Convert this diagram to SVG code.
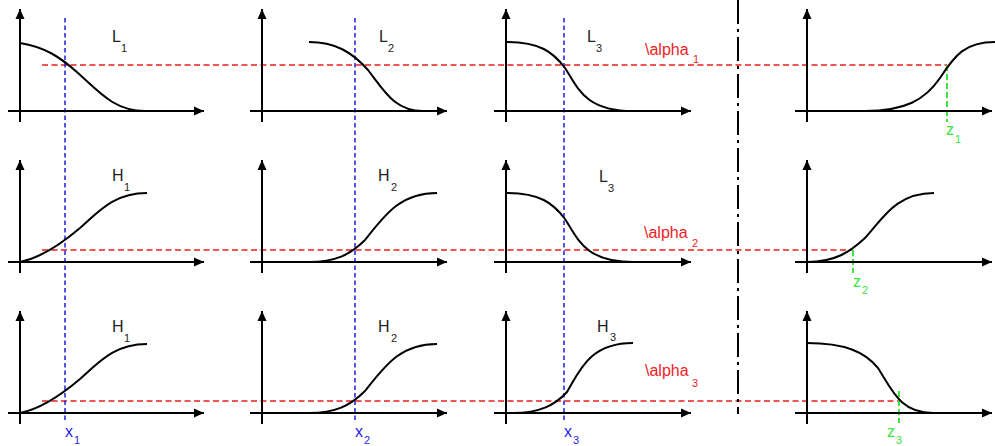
<svg xmlns="http://www.w3.org/2000/svg" width="995" height="446" viewBox="0 0 995 446">
<defs>
<marker id="ah" markerUnits="userSpaceOnUse" markerWidth="12" markerHeight="12" viewBox="0 0 12 12" refX="11" refY="6" orient="auto">
<path d="M1,1.5 L11,6 L1,10.5 Z" fill="#000"/>
</marker>
<style>
.ax{stroke:#000;stroke-width:2;fill:none;marker-end:url(#ah)}
.cv{stroke:#000;stroke-width:2;fill:none}
.red{stroke:#f01e1e;stroke-width:1.5;stroke-dasharray:6 3.5;fill:none}
.blue{stroke:#1e1ee6;stroke-width:1.5;stroke-dasharray:4.5 3;fill:none}
.green{stroke:#3ce63c;stroke-width:2;stroke-dasharray:6 3;fill:none}
.dd{stroke:#000;stroke-width:2;stroke-dasharray:24 5 3 5;fill:none}
text{font-family:"Liberation Sans",Arial,sans-serif}
.lb{font-size:16px;fill:#222}
.sb{font-size:11px;fill:#222}
.rl{font-size:16px;fill:#f01e1e}
.rs{font-size:11px;fill:#f01e1e}
.bl{font-size:16px;fill:#1e1ee6}
.bs{font-size:11px;fill:#1e1ee6}
.gl{font-size:16px;fill:#3ce63c}
.gs{font-size:11px;fill:#3ce63c}
</style>
</defs>
<g id="connectors">
<line class="red" x1="42" y1="65" x2="947" y2="65"/>
<line class="red" x1="42" y1="250" x2="853" y2="250"/>
<line class="red" x1="42" y1="401" x2="899" y2="401"/>
<line class="blue" x1="65" y1="18" x2="65" y2="422"/>
<line class="blue" x1="355" y1="18" x2="355" y2="422"/>
<line class="blue" x1="564" y1="18" x2="564" y2="422"/>
<line class="green" x1="947" y1="65" x2="947" y2="122"/>
<line class="green" x1="853" y1="250" x2="853" y2="273"/>
<line class="green" x1="899" y1="391" x2="899" y2="423"/>
<line class="dd" x1="738" y1="0" x2="738" y2="414"/>
</g>
<g id="p11">
<line class="ax" x1="8" y1="111" x2="204" y2="111"/>
<line class="ax" x1="20" y1="122" x2="20" y2="9"/>
<path class="cv" d="M20,43 C45,47 60,57 78,73 C100,93 115,111 145,111"/>
<text class="lb" x="112" y="42">L</text><text class="sb" x="121" y="52">1</text>
</g>
<g id="p12">
<line class="ax" x1="250" y1="111" x2="447" y2="111"/>
<line class="ax" x1="262" y1="122" x2="262" y2="9"/>
<path class="cv" d="M309,42 C335,42 352,52 368,70 C385,92 395,111 423,111"/>
<text class="lb" x="379" y="42">L</text><text class="sb" x="388" y="52">2</text>
</g>
<g id="p13">
<line class="ax" x1="494" y1="111" x2="691" y2="111"/>
<line class="ax" x1="506" y1="122" x2="506" y2="9"/>
<path class="cv" d="M506,42 C540,42 553,52 565,68 C578,88 585,111 633,111"/>
<text class="lb" x="587" y="42">L</text><text class="sb" x="596" y="52">3</text>
</g>
<g id="p14">
<line class="ax" x1="795" y1="111" x2="992" y2="111"/>
<line class="ax" x1="807" y1="122" x2="807" y2="9"/>
<path class="cv" d="M865,111 C905,111 925,100 940,78 C955,55 965,42 995,42"/>
</g>
<g id="p21">
<line class="ax" x1="8" y1="262" x2="204" y2="262"/>
<line class="ax" x1="20" y1="273" x2="20" y2="160"/>
<path class="cv" d="M20,262 C40,258 60,245 80,228 C100,210 115,193 147,193"/>
<text class="lb" x="112" y="181">H</text><text class="sb" x="124" y="191">1</text>
</g>
<g id="p22">
<line class="ax" x1="250" y1="262" x2="447" y2="262"/>
<line class="ax" x1="262" y1="273" x2="262" y2="160"/>
<path class="cv" d="M309,262 C335,262 350,255 365,240 C385,215 400,193 437,193"/>
<text class="lb" x="378" y="181">H</text><text class="sb" x="391" y="191">2</text>
</g>
<g id="p23">
<line class="ax" x1="494" y1="262" x2="691" y2="262"/>
<line class="ax" x1="506" y1="273" x2="506" y2="160"/>
<path class="cv" d="M506,193 C540,193 553,203 565,219 C578,239 585,262 633,262"/>
<text class="lb" x="599" y="182">L</text><text class="sb" x="608" y="192">3</text>
</g>
<g id="p24">
<line class="ax" x1="795" y1="262" x2="992" y2="262"/>
<line class="ax" x1="807" y1="273" x2="807" y2="160"/>
<path class="cv" d="M807,262 C835,262 850,252 865,238 C882,220 895,193 934,193"/>
</g>
<g id="p31">
<line class="ax" x1="8" y1="413" x2="204" y2="413"/>
<line class="ax" x1="20" y1="424" x2="20" y2="311"/>
<path class="cv" d="M20,413 C40,409 60,396 80,379 C100,361 115,344 147,344"/>
<text class="lb" x="112" y="332">H</text><text class="sb" x="124" y="342">1</text>
</g>
<g id="p32">
<line class="ax" x1="250" y1="413" x2="447" y2="413"/>
<line class="ax" x1="262" y1="424" x2="262" y2="311"/>
<path class="cv" d="M309,413 C335,413 350,406 365,391 C385,366 400,344 437,344"/>
<text class="lb" x="378" y="332">H</text><text class="sb" x="391" y="342">2</text>
</g>
<g id="p33">
<line class="ax" x1="494" y1="413" x2="691" y2="413"/>
<line class="ax" x1="506" y1="424" x2="506" y2="311"/>
<path class="cv" d="M513,413 C540,413 555,405 567,392 C580,370 590,343 633,343"/>
<text class="lb" x="597" y="332">H</text><text class="sb" x="610" y="341">3</text>
</g>
<g id="p34">
<line class="ax" x1="795" y1="413" x2="992" y2="413"/>
<line class="ax" x1="807" y1="424" x2="807" y2="311"/>
<path class="cv" d="M807,343 C845,343 865,352 878,368 C892,390 900,413 933,413"/>
</g>
<g id="labels">
<text class="rl" x="645" y="55">\alpha</text><text class="rs" x="693" y="63">1</text>
<text class="rl" x="644" y="238">\alpha</text><text class="rs" x="692" y="247">2</text>
<text class="rl" x="645" y="376">\alpha</text><text class="rs" x="692" y="387">3</text>
<text class="bl" x="65" y="437">x</text><text class="bs" x="74" y="444">1</text>
<text class="bl" x="355" y="437">x</text><text class="bs" x="364" y="444">2</text>
<text class="bl" x="564" y="437">x</text><text class="bs" x="573" y="444">3</text>
<text class="gl" x="946" y="135">z</text><text class="gs" x="955" y="143">1</text>
<text class="gl" x="853" y="287">z</text><text class="gs" x="862" y="294">2</text>
<text class="gl" x="887" y="437">z</text><text class="gs" x="896" y="444">3</text>
</g>
</svg>
